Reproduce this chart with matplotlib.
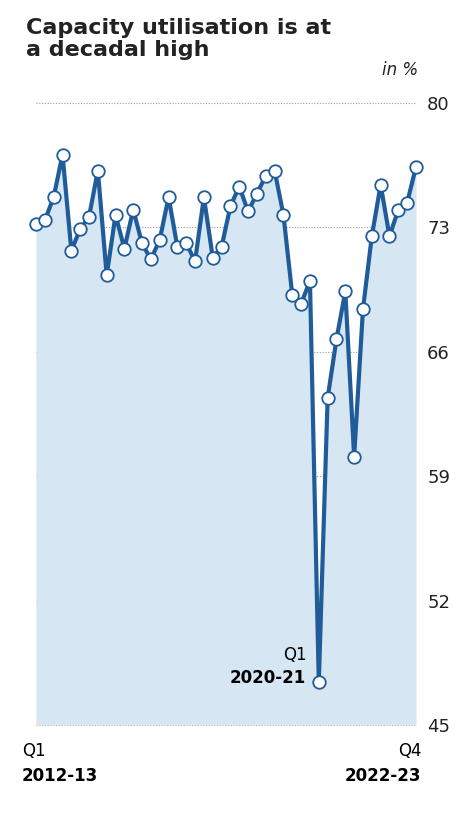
import matplotlib
matplotlib.use("Agg")
import matplotlib.pyplot as plt
import numpy as np

# quarterly capacity utilisation, Q1 2012-13 .. Q4 2022-23
values = [73.2, 73.4, 74.7, 77.1, 71.7, 72.9, 73.6, 76.2, 70.3, 73.7, 71.8,
          74.0, 72.1, 71.2, 72.3, 74.7, 71.9, 72.1, 71.1, 74.7, 71.3, 71.9,
          74.2, 75.3, 73.9, 74.9, 75.9, 76.2, 73.7, 69.2, 68.7, 70.0, 47.4,
          63.4, 66.7, 69.4, 60.1, 68.4, 72.5, 75.4, 72.5, 74.0, 74.4, 76.4]
yticks = [45, 52, 59, 66, 73, 80]

blue = "#1f5c99"
fill = "#d6e6f2"

fig = plt.figure(figsize=(4.74, 8.13), dpi=100)
W, H = 474, 813
ax = fig.add_axes([36 / W, 1 - 725 / H, (416 - 36) / W, (725 - 103) / H])

x = np.arange(len(values))
ax.fill_between(x, values, 45, color=fill, lw=0, zorder=1)
ax.plot(x, values, color=blue, lw=3, zorder=3, marker="o", ms=9,
        mfc="white", mec=blue, mew=1.3)

ax.set_xlim(0, len(values) - 1)
ax.set_ylim(45, 80)
ax.set_yticks(yticks)
ax.yaxis.tick_right()
ax.tick_params(axis="y", length=0, labelsize=13, pad=8, colors="#222222")
ax.set_xticks([])
for s in ax.spines.values():
    s.set_visible(False)
for t in yticks:
    ax.axhline(t, color="#999999", lw=0.8, ls=(0, (1, 1.5)), zorder=0)
ax.set_clip_on(False)
for line in ax.lines:
    line.set_clip_on(False)

fig.text(26 / W, 1 - 18 / H, "Capacity utilisation is at\na decadal high",
         fontsize=16, fontweight="bold", va="top", ha="left",
         linespacing=1.15, color="#222222")
fig.text(418 / W, 1 - 70 / H, "in %", fontsize=12, style="italic",
         ha="right", va="center", color="#222222")

ax.annotate("Q1", (0, 45), xytext=(-10, -12), textcoords="offset points",
            fontsize=12, ha="left", va="top", annotation_clip=False)
ax.annotate("2012-13", (0, 45), xytext=(-10, -30), textcoords="offset points",
            fontsize=12, fontweight="bold", ha="left", va="top",
            annotation_clip=False)
ax.annotate("Q4", (len(values) - 1, 45), xytext=(4, -12),
            textcoords="offset points", fontsize=12, ha="right", va="top",
            annotation_clip=False)
ax.annotate("2022-23", (len(values) - 1, 45), xytext=(4, -30),
            textcoords="offset points", fontsize=12, fontweight="bold",
            ha="right", va="top", annotation_clip=False)

imin = int(np.argmin(values))
ax.annotate("Q1", (imin, values[imin]), xytext=(-9, 20),
            textcoords="offset points", fontsize=12, ha="right", va="center")
ax.annotate("2020-21", (imin, values[imin]), xytext=(-9, 3),
            textcoords="offset points", fontsize=12, fontweight="bold",
            ha="right", va="center")

fig.savefig("out.png", dpi=100)
